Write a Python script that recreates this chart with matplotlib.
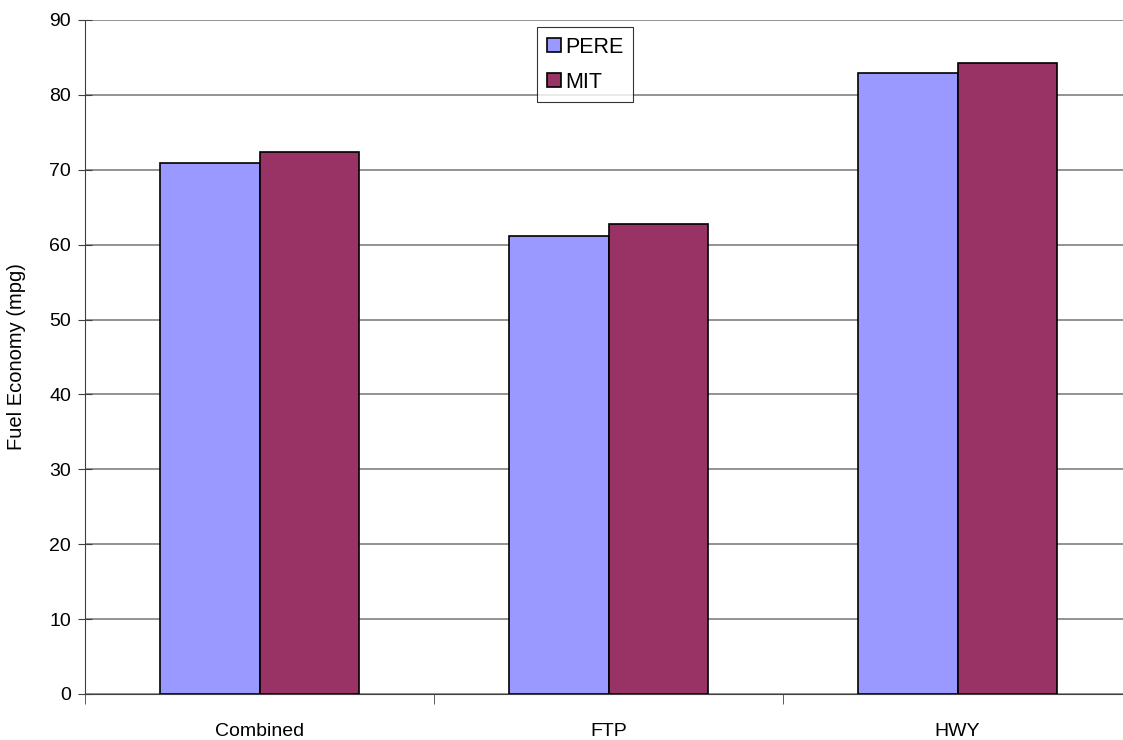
import matplotlib
matplotlib.use("Agg")
import matplotlib.pyplot as plt
import numpy as np

categories = ["Combined", "FTP", "HWY"]
pere = [70.9, 61.1, 82.9]
mit = [72.4, 62.7, 84.2]
series_names = ["PERE", "MIT"]
yticks = list(range(0, 91, 10))

plt.rcParams['font.family'] = ['Liberation Sans', 'DejaVu Sans']

fig = plt.figure(figsize=(11.23, 7.40), dpi=100)
ax = fig.add_axes([85/1123, 1-694/740, 1047/1123, 674/740])

x = np.arange(len(categories))
w = 0.2865
ax.bar(x - w/2, pere, w, color="#9999FF", edgecolor="black", linewidth=1.2, label=series_names[0], zorder=3)
ax.bar(x + w/2, mit, w, color="#993366", edgecolor="black", linewidth=1.2, label=series_names[1], zorder=3)

ax.set_xlim(-0.5, len(categories) - 0.5)
ax.set_ylim(0, 90)
ax.set_yticks(yticks)
ax.set_yticklabels([str(t) for t in yticks], fontsize=14)
ax.yaxis.grid(True, color="#808080", linewidth=1.2, zorder=0)
ax.set_axisbelow(True)

ax.set_xticks(x)
ax.set_xticklabels(categories, fontsize=14)
ax.tick_params(axis='x', length=0, pad=21)
ax.set_xticks(np.arange(-0.5, len(categories)), minor=True)
ax.tick_params(axis='x', which='minor', length=7, color="#404040")
ax.tick_params(axis='y', length=10, direction='inout', color="#404040", pad=5)

for s in ["top", "right"]:
    ax.spines[s].set_visible(False)
ax.spines["left"].set_color("#404040")
ax.spines["bottom"].set_color("#404040")

ax.set_ylabel("Fuel Economy (mpg)", fontsize=14.5, labelpad=17)

leg = ax.legend(loc="upper left", bbox_to_anchor=(452/1047, 1-7/674), frameon=True, fancybox=False,
                edgecolor="black", fontsize=15.5, handlelength=0.65, handleheight=0.65,
                handletextpad=0.2, borderpad=0.45, labelspacing=0.65, borderaxespad=0)
leg.get_frame().set_linewidth(0.8)
leg._legend_box.align = "left"
for t in leg.get_texts():
    t.set_ha("left")
leg.get_frame().set_width = None

fig.canvas.draw()
# widen legend frame slightly on the right to match reference padding
bb = leg.get_frame().get_bbox()
leg.get_frame().set_bounds(bb.x0, bb.y0, bb.width + 10, bb.height)

fig.savefig("out.png", dpi=100, facecolor="white")
